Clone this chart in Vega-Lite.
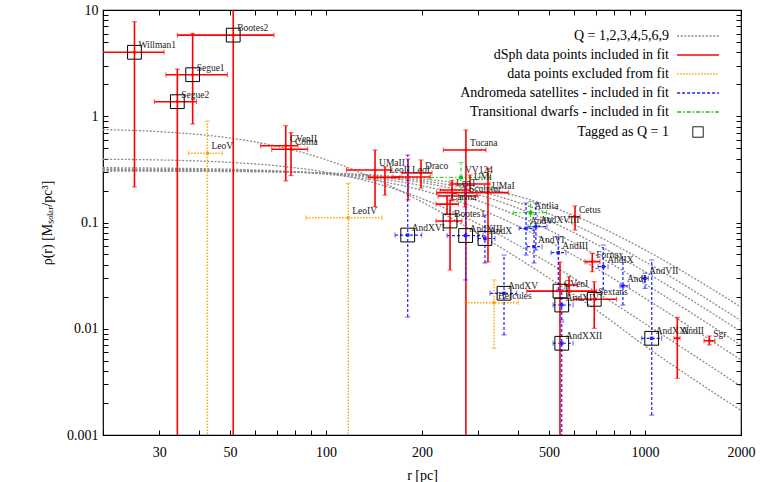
{
  "$schema": "https://vega.github.io/schema/vega-lite/v6.json",
  "width": 638,
  "height": 425,
  "autosize": {"type": "none"},
  "padding": {"left": 103, "top": 10, "right": 21, "bottom": 47},
  "background": "white",
  "config": {
    "view": {"stroke": "black", "strokeWidth": 1.2},
    "font": "Liberation Serif",
    "axis": {"domain": false, "grid": false, "labelFont": "Liberation Serif", "labelFontSize": 14, "labelColor": "black", "titleFont": "Liberation Serif", "titleFontSize": 14, "titleFontWeight": "normal", "titleColor": "black", "tickColor": "black", "tickWidth": 1, "labelOverlap": false, "labelFlush": false}
  },
  "datasets": {
    "curves": [
      {"Q": 1, "r": 20, "rho": 0.75}, {"Q": 1, "r": 30, "rho": 0.716}, {"Q": 1, "r": 50, "rho": 0.624}, {"Q": 1, "r": 70, "rho": 0.523}, {"Q": 1, "r": 100, "rho": 0.39}, {"Q": 1, "r": 150, "rho": 0.24}, {"Q": 1, "r": 200, "rho": 0.156}, {"Q": 1, "r": 300, "rho": 0.078}, {"Q": 1, "r": 500, "rho": 0.03}, {"Q": 1, "r": 700, "rho": 0.0152}, {"Q": 1, "r": 1000, "rho": 0.0069}, {"Q": 1, "r": 1500, "rho": 0.003}, {"Q": 1, "r": 2000, "rho": 0.0017},
      {"Q": 2, "r": 20, "rho": 0.394}, {"Q": 2, "r": 30, "rho": 0.388}, {"Q": 2, "r": 50, "rho": 0.368}, {"Q": 2, "r": 70, "rho": 0.342}, {"Q": 2, "r": 100, "rho": 0.297}, {"Q": 2, "r": 150, "rho": 0.225}, {"Q": 2, "r": 200, "rho": 0.168}, {"Q": 2, "r": 300, "rho": 0.0972}, {"Q": 2, "r": 500, "rho": 0.0415}, {"Q": 2, "r": 700, "rho": 0.0223}, {"Q": 2, "r": 1000, "rho": 0.0112}, {"Q": 2, "r": 1500, "rho": 0.00507}, {"Q": 2, "r": 2000, "rho": 0.00287},
      {"Q": 3, "r": 20, "rho": 0.328}, {"Q": 3, "r": 30, "rho": 0.325}, {"Q": 3, "r": 50, "rho": 0.317}, {"Q": 3, "r": 70, "rho": 0.306}, {"Q": 3, "r": 100, "rho": 0.285}, {"Q": 3, "r": 150, "rho": 0.243}, {"Q": 3, "r": 200, "rho": 0.201}, {"Q": 3, "r": 300, "rho": 0.135}, {"Q": 3, "r": 500, "rho": 0.066}, {"Q": 3, "r": 700, "rho": 0.0373}, {"Q": 3, "r": 1000, "rho": 0.0194}, {"Q": 3, "r": 1500, "rho": 0.0089}, {"Q": 3, "r": 2000, "rho": 0.0051},
      {"Q": 4, "r": 20, "rho": 0.319}, {"Q": 4, "r": 30, "rho": 0.317}, {"Q": 4, "r": 50, "rho": 0.311}, {"Q": 4, "r": 70, "rho": 0.3035}, {"Q": 4, "r": 100, "rho": 0.288}, {"Q": 4, "r": 150, "rho": 0.256}, {"Q": 4, "r": 200, "rho": 0.222}, {"Q": 4, "r": 300, "rho": 0.16}, {"Q": 4, "r": 500, "rho": 0.0847}, {"Q": 4, "r": 700, "rho": 0.0497}, {"Q": 4, "r": 1000, "rho": 0.0264}, {"Q": 4, "r": 1500, "rho": 0.0123}, {"Q": 4, "r": 2000, "rho": 0.007},
      {"Q": 5, "r": 20, "rho": 0.314}, {"Q": 5, "r": 30, "rho": 0.313}, {"Q": 5, "r": 50, "rho": 0.309}, {"Q": 5, "r": 70, "rho": 0.303}, {"Q": 5, "r": 100, "rho": 0.291}, {"Q": 5, "r": 150, "rho": 0.266}, {"Q": 5, "r": 200, "rho": 0.2375}, {"Q": 5, "r": 300, "rho": 0.182}, {"Q": 5, "r": 500, "rho": 0.1036}, {"Q": 5, "r": 700, "rho": 0.063}, {"Q": 5, "r": 1000, "rho": 0.0344}, {"Q": 5, "r": 1500, "rho": 0.0163}, {"Q": 5, "r": 2000, "rho": 0.0094},
      {"Q": 6, "r": 20, "rho": 0.309}, {"Q": 6, "r": 30, "rho": 0.308}, {"Q": 6, "r": 50, "rho": 0.305}, {"Q": 6, "r": 70, "rho": 0.301}, {"Q": 6, "r": 100, "rho": 0.292}, {"Q": 6, "r": 150, "rho": 0.272}, {"Q": 6, "r": 200, "rho": 0.248}, {"Q": 6, "r": 300, "rho": 0.198}, {"Q": 6, "r": 500, "rho": 0.121}, {"Q": 6, "r": 700, "rho": 0.0763}, {"Q": 6, "r": 1000, "rho": 0.0428}, {"Q": 6, "r": 1500, "rho": 0.0206}, {"Q": 6, "r": 2000, "rho": 0.0119},
      {"Q": 9, "r": 20, "rho": 0.3044}, {"Q": 9, "r": 30, "rho": 0.3038}, {"Q": 9, "r": 50, "rho": 0.3016}, {"Q": 9, "r": 70, "rho": 0.2984}, {"Q": 9, "r": 100, "rho": 0.2918}, {"Q": 9, "r": 150, "rho": 0.2768}, {"Q": 9, "r": 200, "rho": 0.2582}, {"Q": 9, "r": 300, "rho": 0.2167}, {"Q": 9, "r": 500, "rho": 0.1431}, {"Q": 9, "r": 700, "rho": 0.0948}, {"Q": 9, "r": 1000, "rho": 0.0552}, {"Q": 9, "r": 1500, "rho": 0.0273}, {"Q": 9, "r": 2000, "rho": 0.016}
    ],
    "pts": [
      {"n": "Willman1", "cat": "dSph data points included in fit", "r": 25.1, "rl": 18, "rh": 31.07, "y": 4.0, "yl": 0.216, "yh": 7.76, "q": 1},
      {"n": "Bootes2", "cat": "dSph data points included in fit", "r": 51.2, "rl": 34.2, "rh": 68.7, "y": 5.8, "yl": 0.0005, "yh": 20, "q": 1},
      {"n": "Segue1", "cat": "dSph data points included in fit", "r": 38.2, "rl": 31.5, "rh": 49.1, "y": 2.46, "yl": 0.845, "yh": 6.03, "q": 1},
      {"n": "Segue2", "cat": "dSph data points included in fit", "r": 34.2, "rl": 28.97, "rh": 39.3, "y": 1.371, "yl": 0.0005, "yh": 2.78, "q": 1},
      {"n": "CVenII", "cat": "dSph data points included in fit", "r": 74.8, "rl": 62.4, "rh": 81.7, "y": 0.528, "yl": 0.246, "yh": 0.815, "q": 0},
      {"n": "Coma", "cat": "dSph data points included in fit", "r": 77.7, "rl": 67.6, "rh": 87.7, "y": 0.489, "yl": 0.276, "yh": 0.7, "q": 0},
      {"n": "LeoV", "cat": "data points excluded from fit", "r": 42.5, "rl": 37.0, "rh": 47.3, "y": 0.448, "yl": 0.0005, "yh": 0.9, "q": 0},
      {"n": "LeoIV", "cat": "data points excluded from fit", "r": 117.5, "rl": 86.6, "rh": 149.9, "y": 0.111, "yl": 0.0005, "yh": 0.234, "q": 0},
      {"n": "UMaII", "cat": "dSph data points included in fit", "r": 142.5, "rl": 116, "rh": 161, "y": 0.312, "yl": 0.141, "yh": 0.481, "q": 0},
      {"n": "LeoII", "cat": "dSph data points included in fit", "r": 153.1, "rl": 135.8, "rh": 170.6, "y": 0.266, "yl": 0.181, "yh": 0.335, "q": 0},
      {"n": "LeoI", "cat": "dSph data points included in fit", "r": 180.8, "rl": 162.3, "rh": 212, "y": 0.268, "yl": 0.163, "yh": 0.396, "q": 0},
      {"n": "Draco", "cat": "dSph data points included in fit", "r": 198.6, "rl": 173.1, "rh": 215, "y": 0.292, "yl": 0.211, "yh": 0.388, "q": 0},
      {"n": "Tucana", "cat": "dSph data points included in fit", "r": 274.6, "rl": 233.3, "rh": 317.5, "y": 0.481, "yl": 0.0005, "yh": 0.742, "q": 0},
      {"n": "UMaI", "cat": "dSph data points included in fit", "r": 322, "rl": 222, "rh": 373, "y": 0.191, "yl": 0.0425, "yh": 0.324, "q": 0},
      {"n": "LeoT", "cat": "dSph data points included in fit", "r": 248.4, "rl": 227.8, "rh": 282.8, "y": 0.2023, "yl": 0.16, "yh": 0.25, "q": 0},
      {"n": "Sculptor", "cat": "dSph data points included in fit", "r": 272.8, "rl": 224.5, "rh": 299.7, "y": 0.1776, "yl": 0.14, "yh": 0.22, "q": 0},
      {"n": "UMi", "cat": "dSph data points included in fit", "r": 282.8, "rl": 244.9, "rh": 326.8, "y": 0.2304, "yl": 0.19, "yh": 0.28, "q": 0},
      {"n": "Carina", "cat": "dSph data points included in fit", "r": 239.6, "rl": 221.3, "rh": 260, "y": 0.149, "yl": 0.12, "yh": 0.18, "q": 0},
      {"n": "Bootes1", "cat": "dSph data points included in fit", "r": 244.9, "rl": 221.3, "rh": 266.9, "y": 0.1033, "yl": 0.0357, "yh": 0.163, "q": 1},
      {"n": "Hercules", "cat": "data points excluded from fit", "r": 336.3, "rl": 272.8, "rh": 400.9, "y": 0.01759, "yl": 0.00655, "yh": 0.0288, "q": 0},
      {"n": "CVenI", "cat": "dSph data points included in fit", "r": 541.5, "rl": 425.9, "rh": 705.8, "y": 0.0226, "yl": 0.0005, "yh": 0.0425, "q": 1},
      {"n": "", "cat": "dSph data points included in fit", "r": 578, "rl": 561.6, "rh": 612, "y": 0.0258, "yl": 0.0208, "yh": 0.0309, "q": 0},
      {"n": "Sextans", "cat": "dSph data points included in fit", "r": 693.5, "rl": 595, "rh": 815, "y": 0.01893, "yl": 0.0101, "yh": 0.0277, "q": 1},
      {"n": "Fornax", "cat": "dSph data points included in fit", "r": 683.6, "rl": 648.6, "rh": 722.8, "y": 0.0428, "yl": 0.0344, "yh": 0.0513, "q": 0},
      {"n": "Cetus", "cat": "dSph data points included in fit", "r": 603.6, "rl": 579, "rh": 625.6, "y": 0.1134, "yl": 0.085, "yh": 0.143, "q": 0},
      {"n": "AndII", "cat": "dSph data points included in fit", "r": 1263, "rl": 1233, "rh": 1288, "y": 0.00813, "yl": 0.00342, "yh": 0.0128, "q": 0},
      {"n": "Sgr", "cat": "dSph data points included in fit", "r": 1591, "rl": 1531, "rh": 1657, "y": 0.0077, "yl": 0.00703, "yh": 0.00855, "q": 0},
      {"n": "AndXVI", "cat": "Andromeda satellites - included in fit", "r": 180.4, "rl": 164.6, "rh": 199.6, "y": 0.0762, "yl": 0.0129, "yh": 0.4318, "q": 1},
      {"n": "AndXIII", "cat": "Andromeda satellites - included in fit", "r": 274, "rl": 239.6, "rh": 310.8, "y": 0.0754, "yl": 0.0288, "yh": 0.2207, "q": 1},
      {"n": "AndX", "cat": "Andromeda satellites - included in fit", "r": 315, "rl": 299.7, "rh": 338.7, "y": 0.0707, "yl": 0.0416, "yh": 0.1177, "q": 1},
      {"n": "AndV", "cat": "Andromeda satellites - included in fit", "r": 423.7, "rl": 403, "rh": 445.7, "y": 0.0882, "yl": 0.0494, "yh": 0.1526, "q": 0},
      {"n": "AndXVIII", "cat": "Andromeda satellites - included in fit", "r": 455, "rl": 429.9, "rh": 493, "y": 0.0913, "yl": 0.0551, "yh": 0.1526, "q": 0},
      {"n": "AndVI", "cat": "Andromeda satellites - included in fit", "r": 449, "rl": 427, "rh": 475.6, "y": 0.0592, "yl": 0.0416, "yh": 0.085, "q": 0},
      {"n": "AndIII", "cat": "Andromeda satellites - included in fit", "r": 535, "rl": 507.7, "rh": 565.7, "y": 0.052, "yl": 0.0232, "yh": 0.073, "q": 0},
      {"n": "AndXV", "cat": "Andromeda satellites - included in fit", "r": 361.5, "rl": 326.8, "rh": 396.3, "y": 0.02157, "yl": 0.00874, "yh": 0.0494, "q": 1},
      {"n": "AndXIV", "cat": "Andromeda satellites - included in fit", "r": 548.4, "rl": 514.9, "rh": 595, "y": 0.01673, "yl": 0.0121, "yh": 0.0232, "q": 1},
      {"n": "AndXXII", "cat": "Andromeda satellites - included in fit", "r": 548.4, "rl": 514.9, "rh": 595, "y": 0.0073, "yl": 0.0005, "yh": 0.01158, "q": 1},
      {"n": "AndIX", "cat": "Andromeda satellites - included in fit", "r": 740, "rl": 712.5, "rh": 766, "y": 0.0384, "yl": 0.0232, "yh": 0.0614, "q": 0},
      {"n": "AndI", "cat": "Andromeda satellites - included in fit", "r": 853, "rl": 835, "rh": 893, "y": 0.0253, "yl": 0.01673, "yh": 0.0444, "q": 0},
      {"n": "AndVII", "cat": "Andromeda satellites - included in fit", "r": 1000, "rl": 976.6, "rh": 1024, "y": 0.0298, "yl": 0.024, "yh": 0.0333, "q": 0},
      {"n": "AndXXI", "cat": "Andromeda satellites - included in fit", "r": 1050, "rl": 976.6, "rh": 1128, "y": 0.00813, "yl": 0.00154, "yh": 0.0444, "q": 1},
      {"n": "VV124", "cat": "Transitional dwarfs - included in fit", "r": 265, "rl": 212, "rh": 327, "y": 0.266, "yl": 0.163, "yh": 0.366, "q": 0},
      {"n": "Antlia", "cat": "Transitional dwarfs - included in fit", "r": 438, "rl": 386.6, "rh": 491.9, "y": 0.1237, "yl": 0.0913, "yh": 0.157, "q": 0}
    ]
  },
  "layer": [
    {
      "data": {"name": "curves"},
      "mark": {"type": "line", "stroke": "#8c8c8c", "strokeWidth": 1.3, "strokeDash": [2, 1.6], "clip": true, "interpolate": "monotone"},
      "encoding": {
        "x": {"field": "r", "type": "quantitative", "scale": {"type": "log", "domain": [20, 2000], "nice": false},
          "axis": {"orient": "bottom", "values": [20,30,40,50,60,70,80,90,100,200,300,400,500,600,700,800,900,1000,2000],
            "labelExpr": "indexof([30,50,100,200,500,1000,2000], datum.value) >= 0 ? format(datum.value, 'd') : ''",
            "tickSize": -5, "labelPadding": 15, "title": "r [pc]", "titlePadding": 9}},
        "y": {"field": "rho", "type": "quantitative", "scale": {"type": "log", "domain": [0.001, 10], "nice": false},
          "axis": {"orient": "left", "values": [0.001,0.002,0.003,0.004,0.005,0.006,0.007,0.008,0.009,0.01,0.02,0.03,0.04,0.05,0.06,0.07,0.08,0.09,0.1,0.2,0.3,0.4,0.5,0.6,0.7,0.8,0.9,1,2,3,4,5,6,7,8,9,10],
            "labelExpr": "datum.value == 10 ? '10' : datum.value == 1 ? '1' : datum.value == 0.1 ? '0.1' : datum.value == 0.01 ? '0.01' : datum.value == 0.001 ? '0.001' : ''",
            "tickSize": -5, "labelPadding": 10, "title": "ρ(r) [Mₛₒₗₐᵣ/pc³]", "titlePadding": 12}},
        "detail": {"field": "Q", "type": "nominal"}
      }
    },
    {
      "data": {"name": "pts"},
      "mark": {"type": "rule", "clip": true},
      "encoding": {
        "x": {"field": "rl", "type": "quantitative", "scale": {"type": "log", "domain": [20, 2000], "nice": false}, "axis": null},
        "x2": {"field": "rh"},
        "y": {"field": "y", "type": "quantitative", "scale": {"type": "log", "domain": [0.001, 10], "nice": false}, "axis": null},
        "color": {"field": "cat", "type": "nominal",
          "scale": {"domain": ["Q = 1,2,3,4,5,6,9", "dSph data points included in fit", "data points excluded from fit", "Andromeda satellites - included in fit", "Transitional dwarfs - included in fit", "Tagged as Q = 1"],
            "range": ["#8c8c8c", "#ff0000", "#ffa500", "#2020ff", "#00cc00", "#000000"]},
          "legend": {"orient": "top-right", "title": null, "symbolType": "stroke", "symbolSize": 100, "labelAlign": "right", "labelOffset": -36,
            "labelFont": "Liberation Serif", "labelFontSize": 14, "labelColor": "black", "labelLimit": 400, "rowPadding": 5, "offset": 15, "padding": 4, "symbolStrokeWidth": 1.3,
            "encode": {"symbols": {"update": {
              "shape": {"signal": "datum.value == 'Tagged as Q = 1' ? 'square' : 'stroke'"},
              "size": {"signal": "datum.value == 'Tagged as Q = 1' ? 110 : 1750"},
              "strokeDash": {"signal": "datum.value == 'Q = 1,2,3,4,5,6,9' ? [2,1.6] : datum.value == 'data points excluded from fit' ? [1.5,1.5] : datum.value == 'Andromeda satellites - included in fit' ? [3,2] : datum.value == 'Transitional dwarfs - included in fit' ? [4,2,1.5,2] : [1,0]"},
              "fill": {"value": "white"},
              "fillOpacity": {"value": 0},
              "opacity": {"value": 1},
              "strokeWidth": {"signal": "datum.value == 'Tagged as Q = 1' ? 1 : 1.5"}
            }}}}},
        "strokeDash": {"field": "cat", "type": "nominal",
          "scale": {"domain": ["Q = 1,2,3,4,5,6,9", "dSph data points included in fit", "data points excluded from fit", "Andromeda satellites - included in fit", "Transitional dwarfs - included in fit", "Tagged as Q = 1"],
            "range": [[2,1.6],[1,0],[1.5,1.5],[3,2],[4,2,1.5,2],[1,0]]}, "legend": null},
        "strokeWidth": {"field": "cat", "type": "nominal", "scale": {"domain": ["dSph data points included in fit", "data points excluded from fit", "Andromeda satellites - included in fit", "Transitional dwarfs - included in fit"], "range": [1.6, 1, 1, 1]}, "legend": null}
      }
    },
    {
      "data": {"name": "pts"},
      "mark": {"type": "rule", "clip": true},
      "encoding": {
        "x": {"field": "r", "type": "quantitative", "scale": {"type": "log", "domain": [20, 2000], "nice": false},
          "axis": {"orient": "top", "values": [20,30,40,50,60,70,80,90,100,200,300,400,500,600,700,800,900,1000,2000], "labels": false, "title": null, "tickSize": -5}},
        "y": {"field": "yl", "type": "quantitative", "scale": {"type": "log", "domain": [0.001, 10], "nice": false},
          "axis": {"orient": "right", "values": [0.001,0.002,0.003,0.004,0.005,0.006,0.007,0.008,0.009,0.01,0.02,0.03,0.04,0.05,0.06,0.07,0.08,0.09,0.1,0.2,0.3,0.4,0.5,0.6,0.7,0.8,0.9,1,2,3,4,5,6,7,8,9,10], "labels": false, "title": null, "tickSize": -5}},
        "y2": {"field": "yh"},
        "color": {"field": "cat", "type": "nominal"},
        "strokeDash": {"field": "cat", "type": "nominal", "legend": null},
        "strokeWidth": {"field": "cat", "type": "nominal", "legend": null}
      }
    },
    {
      "data": {"name": "pts"},
      "mark": {"type": "tick", "orient": "vertical", "size": 5, "thickness": 1, "clip": true},
      "encoding": {
        "x": {"field": "rl", "type": "quantitative", "scale": {"type": "log", "domain": [20, 2000], "nice": false}, "axis": null},
        "y": {"field": "y", "type": "quantitative", "scale": {"type": "log", "domain": [0.001, 10], "nice": false}, "axis": null},
        "color": {"field": "cat", "type": "nominal"}
      }
    },
    {
      "data": {"name": "pts"},
      "mark": {"type": "tick", "orient": "vertical", "size": 5, "thickness": 1, "clip": true},
      "encoding": {
        "x": {"field": "rh", "type": "quantitative", "scale": {"type": "log", "domain": [20, 2000], "nice": false}, "axis": null},
        "y": {"field": "y", "type": "quantitative", "scale": {"type": "log", "domain": [0.001, 10], "nice": false}, "axis": null},
        "color": {"field": "cat", "type": "nominal"}
      }
    },
    {
      "data": {"name": "pts"},
      "mark": {"type": "tick", "orient": "horizontal", "size": 5, "thickness": 1, "clip": true},
      "encoding": {
        "x": {"field": "r", "type": "quantitative", "scale": {"type": "log", "domain": [20, 2000], "nice": false}, "axis": null},
        "y": {"field": "yl", "type": "quantitative", "scale": {"type": "log", "domain": [0.001, 10], "nice": false}, "axis": null},
        "color": {"field": "cat", "type": "nominal"}
      }
    },
    {
      "data": {"name": "pts"},
      "mark": {"type": "tick", "orient": "horizontal", "size": 5, "thickness": 1, "clip": true},
      "encoding": {
        "x": {"field": "r", "type": "quantitative", "scale": {"type": "log", "domain": [20, 2000], "nice": false}, "axis": null},
        "y": {"field": "yh", "type": "quantitative", "scale": {"type": "log", "domain": [0.001, 10], "nice": false}, "axis": null},
        "color": {"field": "cat", "type": "nominal"}
      }
    },
    {
      "data": {"name": "pts"},
      "mark": {"type": "point", "shape": "square", "filled": true, "opacity": 1, "clip": true},
      "encoding": {
        "x": {"field": "r", "type": "quantitative", "scale": {"type": "log", "domain": [20, 2000], "nice": false}, "axis": null},
        "y": {"field": "y", "type": "quantitative", "scale": {"type": "log", "domain": [0.001, 10], "nice": false}, "axis": null},
        "color": {"field": "cat", "type": "nominal", "legend": null},
        "size": {"field": "cat", "type": "nominal", "scale": {"domain": ["dSph data points included in fit", "data points excluded from fit", "Andromeda satellites - included in fit", "Transitional dwarfs - included in fit"], "range": [6, 14, 30, 18]}, "legend": null}
      }
    },
    {
      "data": {"name": "pts"},
      "transform": [{"filter": "datum.q == 1"}],
      "mark": {"type": "point", "shape": "square", "filled": false, "stroke": "black", "strokeWidth": 1, "size": 190, "opacity": 1, "clip": true},
      "encoding": {
        "x": {"field": "r", "type": "quantitative", "scale": {"type": "log", "domain": [20, 2000], "nice": false}, "axis": null},
        "y": {"field": "y", "type": "quantitative", "scale": {"type": "log", "domain": [0.001, 10], "nice": false}, "axis": null}
      }
    },
    {
      "data": {"name": "pts"},
      "mark": {"type": "text", "align": "left", "baseline": "alphabetic", "dx": 4, "dy": -4, "font": "Liberation Serif", "fontSize": 9.5, "fill": "#222"},
      "encoding": {
        "x": {"field": "r", "type": "quantitative", "scale": {"type": "log", "domain": [20, 2000], "nice": false}, "axis": null},
        "y": {"field": "y", "type": "quantitative", "scale": {"type": "log", "domain": [0.001, 10], "nice": false}, "axis": null},
        "text": {"field": "n", "type": "nominal"}
      }
    }
  ],
  "resolve": {"axis": {"x": "independent", "y": "independent"}}
}
